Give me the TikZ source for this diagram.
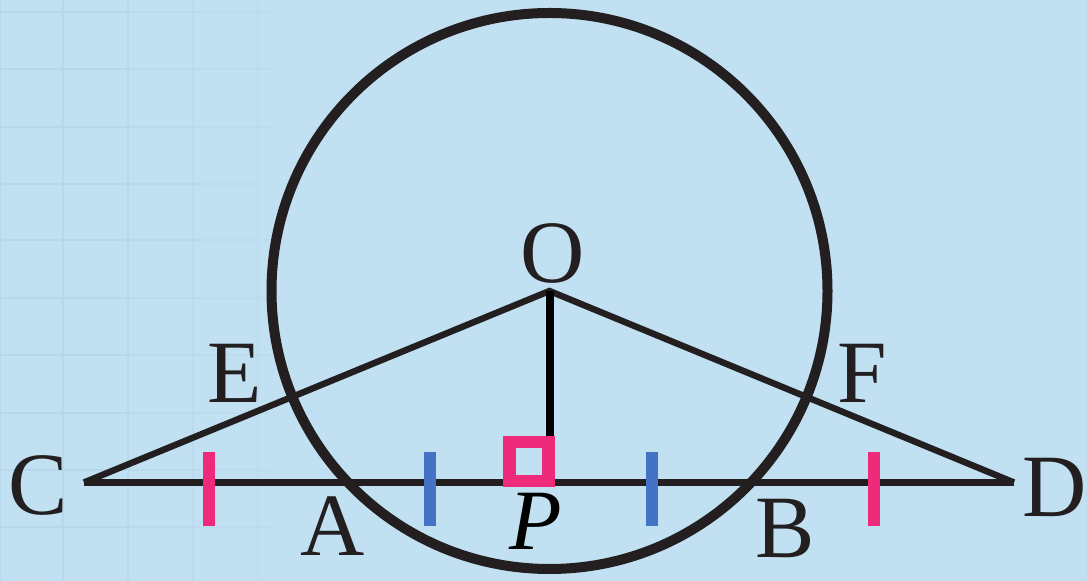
\documentclass[tikz,border=0pt]{standalone}
\usepackage{fontspec}
\setmainfont{Liberation Serif}
\definecolor{bg}{RGB}{193,224,242}
\definecolor{gridc}{RGB}{183,216,236}
\definecolor{ink}{RGB}{35,31,32}
\definecolor{pinkc}{RGB}{238,42,123}
\definecolor{bluec}{RGB}{68,114,196}
\tikzset{
  lbl/.style={inner sep=0pt, text=ink, font=\fontsize{44.5}{50}\selectfont},
  pinktick/.style={draw=pinkc, line width=6pt},
  bluetick/.style={draw=bluec, line width=6pt},
  thin line/.style={draw=ink, line width=3.2pt},
  base line/.style={draw=ink, line width=3.5pt},
}
\begin{document}
\begin{tikzpicture}[x=0.5pt,y=-0.5pt]
\fill[bg] (0,0) rectangle (1087,581);
\useasboundingbox (0,0) rectangle (1087,581);
% faint grid on the left
\foreach \gx/\op in {0/1,63/1,128/0.85,193/0.65,258/0.4}
  \draw[gridc, line width=1.1pt, opacity=\op] (\gx,0) -- (\gx,581);
\foreach \gy in {12,69,127,184,240,298,355,413,470,527}{
  \draw[gridc, line width=1.1pt] (0,\gy) -- (130,\gy);
  \draw[gridc, line width=1.1pt, opacity=0.7] (130,\gy) -- (200,\gy);
  \draw[gridc, line width=1.1pt, opacity=0.4] (200,\gy) -- (270,\gy);
  \draw[gridc, line width=1.1pt, opacity=0.15] (270,\gy) -- (330,\gy);
}
% points
\coordinate (O) at (549.5,291);
\coordinate (C) at (84,482.5);
\coordinate (D) at (1014,482.5);
\coordinate (P) at (549.5,482.5);
% circle
\draw[ink, line width=5pt] (O) circle[radius=139pt];
% lines
\draw[thin line] (C) -- (O) -- (D);
\draw[base line] (C) -- (D);
\draw[black, line width=4pt] (O) -- (P);
% right angle mark
\node[draw=pinkc, line width=6.3pt, minimum size=19.5pt, inner sep=0pt, anchor=center] (sq) at (529,461.5) {};
% tick marks
\draw[pinktick] (209,452) -- (209,526);
\draw[bluetick] (430,452) -- (430,526);
\draw[bluetick] (652,452) -- (652,526);
\draw[pinktick] (874,452) -- (874,526);
% labels
\node[lbl] (lC) at (38,485) {C};
\node[lbl] (lD) at (1055,487) {D};
\node[lbl] (lO) at (553,253) {O};
\node[lbl] (lE) at (235,373) {E};
\node[lbl] (lF) at (862,373) {F};
\node[lbl] (lA) at (333,526) {A};
\node[lbl] (lB) at (785,528) {B};
\node[inner sep=0pt, text=black, font=\fontsize{43}{50}\selectfont\itshape] (lP) at (536,521) {P};
\end{tikzpicture}
\end{document}
